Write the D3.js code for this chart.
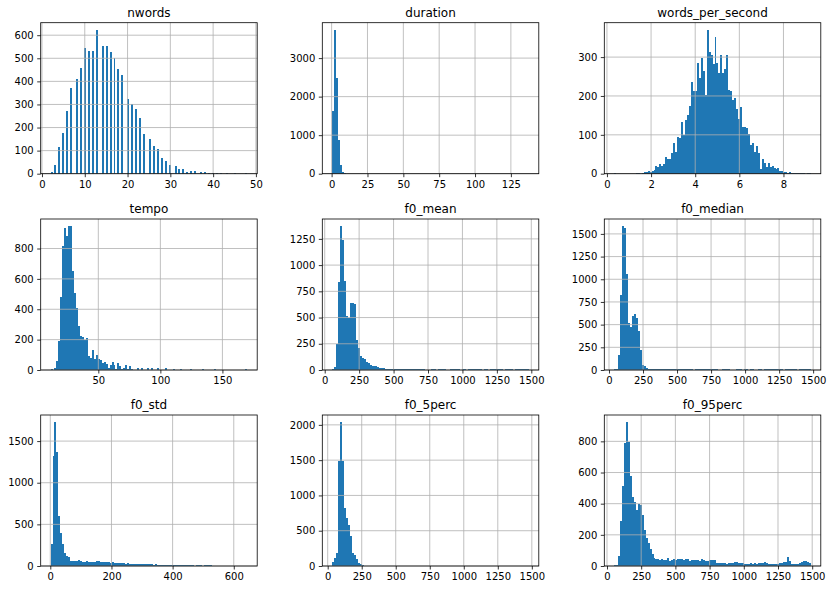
<!DOCTYPE html>
<html>
<head>
<meta charset="utf-8">
<script src="https://cdn.jsdelivr.net/npm/d3@7"></script>
<style>
  body { margin: 0; background: #fff; }
  svg { display: block; }
  text { font-family: "DejaVu Sans", sans-serif; fill: #000; }
</style>
</head>
<body>
<svg id="chart" width="833" height="590"></svg>
<script>
// nwords is an integer count: occurrences per number of words.
const nwordsValues = d3.range(2, 49);
const nwordsCounts = [6, 37, 115, 178, 273, 372, 411, 459, 545, 532,
  532, 623, 554, 554, 528, 500, 454, 428, 324, 300,
  279, 243, 170, 152, 119, 105, 70, 57, 37, 33,
  19, 19, 6, 10, 10, 6, 6, 2, 3, 1,
  1, 1, 0, 1, 0, 0, 1];

// The other columns: 100 equal bins between lo and hi.
const durationRange = [0.36, 137.6];
const durationCounts = [1637, 3732, 2490, 887, 222, 34, 12, 5, 3, 2,
  1, 1, 0, 0, 1, 0, 0, 0, 0, 0,
  0, 0, 0, 0, 0, 0, 0, 0, 0, 0,
  0, 0, 0, 0, 0, 0, 0, 0, 0, 0,
  0, 0, 0, 0, 0, 0, 0, 0, 0, 0,
  0, 0, 0, 0, 0, 0, 0, 0, 0, 0,
  0, 0, 0, 0, 0, 0, 0, 0, 0, 0,
  0, 0, 0, 0, 0, 0, 0, 0, 0, 0,
  0, 0, 0, 0, 0, 0, 0, 0, 0, 0,
  0, 0, 0, 0, 0, 0, 0, 0, 0, 1];

const wpsRange = [0.326, 9.246];
const wpsCounts = [1, 0, 0, 0, 0, 0, 0, 0, 0, 0,
  0, 3, 3, 0, 3, 4, 5, 6, 4, 7,
  10, 21, 17, 26, 19, 26, 42, 39, 39, 54,
  79, 55, 95, 91, 132, 100, 137, 151, 174, 237,
  214, 214, 285, 245, 297, 265, 203, 370, 314, 305,
  281, 352, 284, 258, 306, 258, 270, 306, 216, 214,
  190, 195, 167, 142, 172, 121, 120, 118, 103, 74,
  80, 55, 70, 52, 12, 37, 28, 18, 28, 18,
  20, 14, 12, 15, 8, 6, 4, 5, 3, 4,
  2, 3, 2, 3, 1, 1, 2, 0, 1, 1];

const tempoRange = [11.5, 170.1];
const tempoCounts = [8, 0, 11, 61, 191, 480, 815, 936, 881, 947,
  947, 651, 508, 405, 291, 226, 215, 195, 210, 92,
  79, 129, 72, 99, 72, 63, 44, 55, 40, 10,
  33, 55, 33, 4, 46, 26, 5, 15, 33, 4,
  24, 5, 3, 2, 15, 3, 15, 2, 2, 12,
  2, 15, 2, 3, 15, 1, 2, 1, 12, 1,
  1, 1, 9, 1, 0, 1, 9, 0, 1, 0,
  1, 9, 0, 1, 0, 0, 1, 9, 0, 0,
  1, 0, 0, 9, 0, 0, 1, 0, 0, 0,
  0, 1, 0, 0, 0, 0, 0, 0, 0, 9];

const f0MeanRange = [54, 1483];
const f0MeanCounts = [12, 29, 251, 838, 1371, 1238, 848, 514, 495, 635,
  643, 625, 289, 210, 133, 114, 102, 79, 63, 51,
  41, 38, 35, 29, 21, 21, 16, 14, 12, 12,
  11, 11, 10, 10, 10, 9, 9, 9, 9, 9,
  8, 8, 8, 8, 8, 8, 8, 0, 0, 0,
  8, 7, 8, 0, 8, 7, 8, 7, 0, 0,
  7, 8, 7, 8, 7, 0, 7, 7, 0, 7,
  8, 7, 7, 8, 7, 7, 0, 7, 7, 0,
  7, 8, 7, 7, 8, 7, 7, 0, 7, 7,
  7, 7, 0, 7, 8, 7, 7, 7, 7, 7];

const f0MedianRange = [37.8, 1484];
const f0MedianCounts = [7, 14, 166, 822, 1585, 1566, 1062, 523, 472, 600,
  612, 571, 435, 225, 59, 48, 22, 15, 14, 12,
  10, 10, 10, 9, 9, 9, 9, 9, 9, 9,
  9, 9, 9, 9, 8, 8, 8, 8, 8, 8,
  0, 8, 8, 8, 8, 8, 8, 8, 8, 8,
  8, 8, 8, 0, 0, 8, 8, 8, 8, 0,
  0, 0, 8, 8, 8, 0, 8, 8, 0, 8,
  8, 0, 0, 8, 8, 0, 8, 8, 8, 8,
  8, 8, 8, 8, 8, 8, 0, 8, 8, 8,
  8, 8, 8, 0, 8, 8, 8, 8, 8, 8];

const f0StdRange = [0.8, 644.4];
const f0StdCounts = [264, 1322, 1727, 1374, 601, 393, 264, 160, 124, 112,
  64, 62, 64, 60, 72, 60, 44, 50, 55, 48,
  52, 50, 45, 55, 60, 48, 50, 45, 52, 48,
  40, 45, 42, 38, 40, 35, 40, 36, 30, 32,
  28, 30, 28, 25, 27, 24, 22, 25, 22, 20,
  22, 20, 18, 20, 18, 16, 18, 15, 16, 15,
  14, 12, 13, 12, 14, 12, 10, 12, 11, 10,
  8, 10, 12, 0, 8, 7, 9, 0, 10, 8,
  9, 10, 0, 0, 0, 0, 0, 0, 0, 0,
  0, 0, 0, 0, 0, 0, 0, 0, 0, 1];

const f05Range = [32.7, 1479];
const f05Counts = [52, 108, 188, 1493, 2038, 1493, 822, 686, 587, 423,
  178, 150, 94, 47, 24, 14, 5, 2, 1, 0,
  0, 0, 0, 0, 0, 1, 0, 0, 0, 0,
  0, 0, 0, 0, 0, 0, 0, 0, 0, 0,
  1, 0, 0, 0, 0, 0, 0, 0, 0, 0,
  0, 0, 0, 0, 0, 0, 0, 0, 0, 0,
  0, 0, 0, 0, 0, 0, 0, 0, 0, 0,
  0, 0, 0, 0, 0, 0, 0, 0, 0, 0,
  0, 0, 0, 0, 0, 0, 0, 0, 0, 0,
  0, 0, 0, 0, 0, 0, 0, 0, 0, 1];

const f095Range = [52.3, 1491];
const f095Counts = [9, 9, 62, 291, 511, 789, 923, 798, 579, 443,
  411, 362, 400, 391, 330, 234, 181, 145, 111, 75,
  49, 43, 43, 38, 43, 38, 38, 51, 32, 38,
  43, 40, 43, 42, 43, 40, 45, 47, 32, 38,
  38, 38, 38, 32, 45, 38, 32, 32, 38, 36,
  36, 36, 22, 20, 18, 22, 20, 16, 18, 22,
  20, 24, 28, 22, 20, 18, 12, 10, 14, 18,
  16, 20, 14, 18, 22, 20, 24, 18, 16, 16,
  16, 16, 15, 14, 18, 22, 26, 26, 55, 30,
  14, 12, 12, 14, 20, 26, 30, 30, 26, 18];

// Tick labels as they appear in each panel.
const f0Ticks = [0, 250, 500, 750, 1000, 1250, 1500];
const nwordsXTicks = [0, 10, 20, 30, 40, 50], nwordsYTicks = [0, 100, 200, 300, 400, 500, 600];
const durationXTicks = [0, 25, 50, 75, 100, 125], durationYTicks = [0, 1000, 2000, 3000];
const wpsXTicks = [0, 2, 4, 6, 8], wpsYTicks = [0, 100, 200, 300];
const tempoXTicks = [50, 100, 150], tempoYTicks = [0, 200, 400, 600, 800];
const f0MeanYTicks = [0, 250, 500, 750, 1000, 1250];
const f0MedianYTicks = [0, 250, 500, 750, 1000, 1250, 1500];
const f0StdXTicks = [0, 200, 400, 600], f0StdYTicks = [0, 500, 1000, 1500];
const f05YTicks = [0, 500, 1000, 1500, 2000];
const f095YTicks = [0, 200, 400, 600, 800];

// Bin nwords into 100 equal bins over its range, as the histogram did.
const nwordsRange = [2, 48];
const nwStep = (nwordsRange[1] - nwordsRange[0]) / 100;
const nwordsBins = d3.bin()
  .value((d) => d.k)
  .domain(nwordsRange)
  .thresholds(d3.range(1, 100).map((i) => nwordsRange[0] + i * nwStep))(
    nwordsValues.map((k, i) => ({ k, n: nwordsCounts[i] }))
  ).map((b) => d3.sum(b, (d) => d.n));

const panels = [
  { title: "nwords", range: nwordsRange, counts: nwordsBins, xt: nwordsXTicks, yt: nwordsYTicks },
  { title: "duration", range: durationRange, counts: durationCounts, xt: durationXTicks, yt: durationYTicks },
  { title: "words_per_second", range: wpsRange, counts: wpsCounts, xt: wpsXTicks, yt: wpsYTicks },
  { title: "tempo", range: tempoRange, counts: tempoCounts, xt: tempoXTicks, yt: tempoYTicks },
  { title: "f0_mean", range: f0MeanRange, counts: f0MeanCounts, xt: f0Ticks, yt: f0MeanYTicks },
  { title: "f0_median", range: f0MedianRange, counts: f0MedianCounts, xt: f0Ticks, yt: f0MedianYTicks },
  { title: "f0_std", range: f0StdRange, counts: f0StdCounts, xt: f0StdXTicks, yt: f0StdYTicks },
  { title: "f0_5perc", range: f05Range, counts: f05Counts, xt: f0Ticks, yt: f05YTicks },
  { title: "f0_95perc", range: f095Range, counts: f095Counts, xt: f0Ticks, yt: f095YTicks },
];

// Layout of the 3x3 grid of axes.
const colX = [40.7, 322.3, 604.3];
const rowY = [22.7, 219, 415];
const pw = 216.5;
const ph = 151;
const barColor = "#1f77b4";
const gridColor = "#b0b0b0";

const svg = d3.select("#chart");
svg.append("rect").attr("width", 833).attr("height", 590).attr("fill", "#fff");

panels.forEach((p, idx) => {
  const g = svg
    .append("g")
    .attr("transform", `translate(${colX[idx % 3]},${rowY[Math.floor(idx / 3)]})`);

  const [lo, hi] = p.range;
  const n = p.counts.length;
  const step = (hi - lo) / n;
  const pad = (hi - lo) * 0.05;

  const x = d3.scaleLinear().domain([lo - pad, hi + pad]).range([0, pw]);
  const y = d3.scaleLinear().domain([0, d3.max(p.counts) * 1.05]).range([ph, 0]);

  // Bars, drawn crisp so neighbouring bins join without seams.
  g.append("g")
    .attr("shape-rendering", "crispEdges")
    .selectAll("rect")
    .data(p.counts)
    .join("rect")
    .attr("x", (d, i) => x(lo + i * step))
    .attr("width", (d, i) => x(lo + (i + 1) * step) - x(lo + i * step))
    .attr("y", (d) => y(d))
    .attr("height", (d) => y(0) - y(d))
    .attr("fill", barColor);

  // Grid lines sit above the bars.
  const grid = g.append("g").attr("stroke", gridColor).attr("stroke-width", 0.8);
  grid.selectAll(".gx")
    .data(p.xt)
    .join("line")
    .attr("x1", (d) => x(d)).attr("x2", (d) => x(d))
    .attr("y1", 0).attr("y2", ph);
  grid.selectAll(".gy")
    .data(p.yt)
    .join("line")
    .attr("x1", 0).attr("x2", pw)
    .attr("y1", (d) => y(d)).attr("y2", (d) => y(d));

  // Axes.
  const xAxis = g.append("g")
    .attr("transform", `translate(0,${ph})`)
    .call(d3.axisBottom(x).tickValues(p.xt).tickFormat(d3.format("d"))
      .tickSize(3.5).tickSizeOuter(0).tickPadding(3.5));
  const yAxis = g.append("g")
    .call(d3.axisLeft(y).tickValues(p.yt).tickFormat(d3.format("d"))
      .tickSize(3.5).tickSizeOuter(0).tickPadding(3.5));

  [xAxis, yAxis].forEach((a) => {
    a.attr("font-family", null).attr("font-size", null);
    a.select(".domain").remove();
    a.selectAll(".tick line").attr("stroke", "#000").attr("stroke-width", 0.8);
    a.selectAll(".tick text").attr("font-size", 10).attr("fill", "#000");
  });

  // Frame.
  g.append("rect")
    .attr("width", pw).attr("height", ph)
    .attr("fill", "none").attr("stroke", "#000").attr("stroke-width", 0.8);

  // Title.
  g.append("text")
    .attr("x", pw / 2).attr("y", -6)
    .attr("text-anchor", "middle")
    .attr("font-size", 12)
    .text(p.title);
});
</script>
</body>
</html>
